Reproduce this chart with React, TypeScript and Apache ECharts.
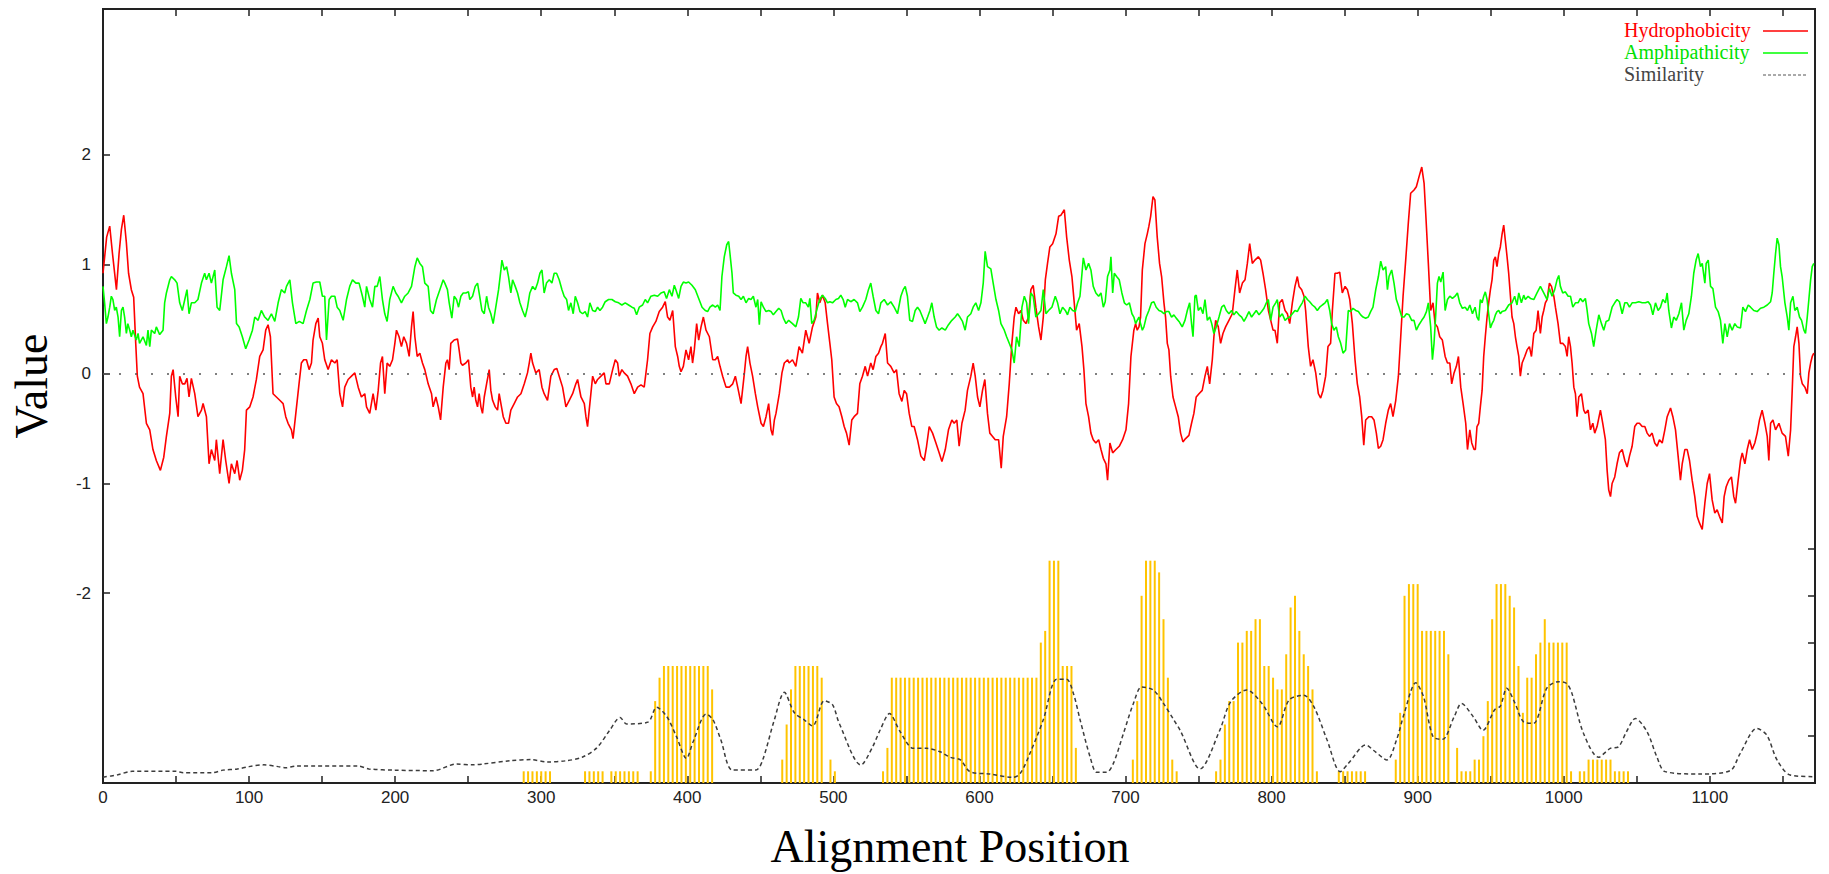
import React, { useEffect, useRef } from "react";
import * as echarts from "echarts";

const xTickValues = [0, 50, 100, 150, 200, 250, 300, 350, 400, 450, 500, 550, 600, 650, 700, 750, 800, 850, 900, 950, 1000, 1050, 1100, 1150];
const xLabelValues = [0, 100, 200, 300, 400, 500, 600, 700, 800, 900, 1000, 1100];
const leftTickValues = [-2, -1, 0, 1, 2];
const rightTickValues = [4, 8, 12, 16, 20];

const legendNames = ["Hydrophobicity", "Amphipathicity", "Similarity"];

const hydrophobicity: number[][] = [
[0,0.92],[2.5,1.25],[4.6,1.35],[6.5,1.1],[9.2,0.77],[11,1.1],[12.6,1.32],[14.2,1.45],[16,1.2],[17.5,0.92],[19.4,0.77],[21,0.7],[22.4,0.28],[23.5,-0.02],[25,-0.12],[27.4,-0.18],[29.7,-0.45],[32,-0.51],[34.2,-0.69],[36.5,-0.79],[39.3,-0.88],[41.6,-0.76],[43.4,-0.57],[45.7,-0.36],[46.8,-0.02],[48,0.04],[49.8,-0.21],[51.4,-0.39],[52.5,-0.02],[54.3,-0.09],[56,-0.09],[57.5,-0.04],[58.9,-0.21],[60.5,-0.04],[62.8,-0.18],[65,-0.39],[67.4,-0.33],[68.5,-0.27],[70.8,-0.39],[72.6,-0.82],[74.2,-0.69],[76.5,-0.79],[77.6,-0.6],[79.9,-0.91],[82.2,-0.6],[84,-0.79],[86.3,-1.0],[87.9,-0.82],[90.2,-0.91],[91.8,-0.79],[93.6,-0.97],[95.4,-0.88],[97,-0.69],[98.2,-0.33],[100.5,-0.3],[102.7,-0.21],[105,-0.05],[107.3,0.16],[109.6,0.22],[111.4,0.4],[113,0.45],[114.6,0.34],[116.4,-0.18],[118.7,-0.21],[121,-0.24],[123.3,-0.27],[125.1,-0.39],[126.7,-0.45],[129,-0.51],[130.1,-0.59],[132,-0.36],[134.2,-0.09],[135.8,0.1],[137.4,0.13],[139.3,0.13],[141.1,0.04],[142.7,0.1],[143.8,0.31],[145.7,0.46],[147.3,0.51],[148.4,0.34],[150.2,0.28],[151.8,0.13],[154.1,0.04],[156.4,0.13],[158.7,0.1],[160.3,0.13],[162.1,-0.18],[164,-0.3],[165.5,-0.12],[167.8,-0.05],[170.1,-0.02],[172.4,0.01],[174.7,-0.12],[176.9,-0.21],[179.2,-0.18],[180.4,-0.3],[182.6,-0.36],[184.9,-0.18],[186.8,-0.33],[188.4,-0.15],[190,0.1],[191.3,0.16],[192.9,-0.18],[194.5,0.1],[196.3,0.07],[198.2,0.13],[199.8,0.28],[200.9,0.4],[202.7,0.34],[204.3,0.25],[205.9,0.34],[207.8,0.28],[209.6,0.16],[211.2,0.43],[212.3,0.57],[213.5,0.34],[215.1,0.16],[216.9,0.19],[218.7,0.1],[220.3,0.04],[222.6,-0.09],[224.9,-0.18],[226,-0.3],[227.9,-0.21],[229.5,-0.3],[231.1,-0.42],[232.9,-0.12],[234.7,0.1],
[235.8,0.13],[237,0.04],[238.1,0.28],[240.4,0.31],[242.7,0.32],[243.8,0.22],[245,0.1],[246.1,0.08],[248.4,0.1],[250.2,0.13],[251.8,-0.12],[253,-0.21],[254.1,-0.12],[255.2,-0.24],[256.4,-0.3],[257.5,-0.18],[258.7,-0.3],[259.8,-0.36],[261,-0.21],[262.6,-0.09],[264.4,0.04],[265.5,-0.15],[266.7,-0.24],[268.5,-0.3],[270.1,-0.33],[271.2,-0.18],[272.4,-0.27],[274,-0.39],[275.8,-0.45],[277.6,-0.45],[279.2,-0.33],[281.5,-0.27],[283.8,-0.21],[286.1,-0.18],[288.4,-0.09],[290.6,0.01],[291.8,0.1],[292.9,0.19],[294.1,0.1],[296.3,0.01],[298.6,0.04],[300.5,-0.12],[302,-0.18],[304.3,-0.24],[306.6,-0.02],[308.9,0.04],[310.7,0.05],[312.3,-0.02],[314.6,-0.12],[316.9,-0.3],[319.2,-0.24],[321.5,-0.18],[323.7,-0.09],[324.9,-0.05],[327.2,-0.21],[329.5,-0.27],[330.6,-0.39],[331.7,-0.48],[333.3,-0.27],[335.2,-0.02],[337,-0.09],[338.6,-0.05],[340.9,-0.02],[343.1,0.01],[344.3,-0.09],[346.6,-0.09],[348.9,0.04],[350.7,0.13],[352.3,0.1],[353.4,-0.02],[355.2,0.04],[356.8,0.01],[359.1,-0.02],[361.4,-0.09],[363.7,-0.18],[366,-0.12],[368.3,-0.1],[370.5,-0.12],[371.7,0.01],[372.8,0.13],[374.4,0.37],[376.3,0.43],[378.5,0.48],[380.8,0.57],[383.1,0.61],[384.9,0.66],[386.5,0.52],[388.1,0.49],[390,0.58],[391.8,0.25],[393.4,0.16],[394.5,0.07],[395.7,0.02],[397.3,0.07],[399.1,0.22],[400.9,0.13],[402.5,0.25],[403.6,0.1],[404.8,0.22],[406.4,0.46],[407.8,0.31],[409.4,0.43],[411,0.52],[412.8,0.4],[415.1,0.34],[417.4,0.13],[419.2,0.13],[420.8,0.16],[422.4,0.07],[424.2,-0.02],[426.5,-0.12],[428.8,-0.12],[431.1,-0.09],[432.9,-0.02],[434.5,-0.12],[436.8,-0.27],[439.1,0.01],[440.2,0.16],[441.3,0.25],[442.9,0.1],[444.7,-0.02],[446.6,-0.18],[448.2,-0.3],[450.5,-0.45],[452.1,-0.48],[453.9,-0.39],[455.7,-0.27],[457.3,-0.51],[458.4,-0.56],[459.6,-0.42],[460.7,-0.36],[463,-0.18],[464.8,0.01],[466.4,0.1],[468.7,0.13],
[469.7,0.1],[472,0.13],[474.3,0.07],[476.5,0.25],[478.8,0.19],[481.1,0.4],[483.4,0.28],[485.7,0.43],[488,0.52],[489.1,0.74],[490.7,0.65],[492.5,0.72],[494.4,0.65],[496,0.46],[497.6,0.28],[498.9,0.13],[500.5,-0.21],[502.1,-0.27],[503.9,-0.3],[505.8,-0.39],[507.4,-0.48],[509,-0.54],[510.8,-0.65],[512.6,-0.42],[514.2,-0.39],[516.5,-0.36],[518.1,-0.09],[519.9,-0.02],[521.8,0.07],[523.4,-0.02],[525.6,0.1],[527.2,0.04],[529.1,0.16],[530.9,0.19],[532.5,0.25],[533.6,0.28],[535.5,0.37],[537.1,0.1],[539.3,0.07],[541.6,0.01],[543.2,0.04],[545,-0.18],[546.9,-0.25],[548.5,-0.15],[550.1,-0.18],[551.9,-0.36],[553.7,-0.48],[555.3,-0.48],[557.6,-0.6],[559.9,-0.75],[562.2,-0.79],[563.8,-0.66],[565.6,-0.48],[567.9,-0.54],[570.2,-0.63],[572.4,-0.72],[574.3,-0.8],[576.6,-0.69],[578.8,-0.51],[581.1,-0.42],[582.7,-0.45],[584.5,-0.42],[586.1,-0.66],[588,-0.45],[590.2,-0.33],[591.8,-0.15],[594.1,-0.02],[595.7,0.1],[597.1,-0.02],[598.7,-0.21],[600.3,-0.3],[602.1,-0.15],[603.7,-0.05],[605.5,-0.36],[607.1,-0.54],[609,-0.57],[610.8,-0.6],[613.1,-0.6],[614.9,-0.86],[616.3,-0.57],[618.6,-0.39],[620.4,-0.09],[622.2,0.28],[623.8,0.52],[625,0.61],[626.8,0.55],[628.4,0.58],[630,0.49],[631.8,0.46],[633.6,0.52],[635.2,0.77],[636.8,0.81],[638.6,0.61],[640.5,0.43],[642.1,0.31],[643.7,0.52],[645.1,0.86],[646.6,1.01],[648.2,1.16],[650.1,1.19],[652.4,1.28],[654.2,1.44],[655.8,1.45],[658.1,1.5],[659.7,1.25],[661.5,1.04],[663.3,0.89],[664.9,0.65],[666.5,0.4],[668.3,0.46],[670.2,0.25],[671.5,0.04],[672.9,-0.27],[674.7,-0.39],[676.3,-0.54],[677.9,-0.6],[679.7,-0.63],[681.6,-0.6],[683.2,-0.69],[684.8,-0.77],[686.6,-0.82],[687.7,-0.97],[689.3,-0.63],[691.2,-0.72],[693.4,-0.69],[695.7,-0.66],[698,-0.6],[700.3,-0.51],[702.1,-0.27],[703.7,0.16],
[705.7,0.4],[706.9,0.46],[708,0.4],[709.2,0.43],[710.3,0.52],[711.5,0.95],[713.3,1.19],[714.9,1.28],[716,1.35],[717.2,1.44],[718.8,1.62],[720.1,1.59],[721.7,1.25],[723.3,1.01],[724.7,0.89],[726.3,0.65],[727.4,0.52],[728.6,0.28],[729.7,0.22],[730.9,-0.02],[732.5,-0.21],[734.3,-0.3],[736.1,-0.39],[737.7,-0.54],[739.3,-0.62],[741.1,-0.59],[743.4,-0.56],[745.2,-0.45],[746.8,-0.36],[748.4,-0.21],[750.3,-0.18],[752.5,-0.15],[754.4,-0.02],[756,0.07],[757.6,-0.09],[759.4,0.13],[760.5,0.34],[761.7,0.49],[763.5,0.43],[765.1,0.28],[766.7,0.37],[768.5,0.43],[770.8,0.49],[773.1,0.55],[774.9,0.77],[776.5,0.95],[778.1,0.74],[780,0.83],[781.8,0.86],[783.4,1.01],[785,1.19],[786.8,1.01],[788.6,1.04],[790.9,1.07],[792.5,1.04],[794.1,0.92],[795.9,0.77],[797.8,0.58],[799.4,0.49],[801,0.4],[802.3,0.4],[803.9,0.28],[805.5,0.65],[807.3,0.68],[809.2,0.58],[810.8,0.55],[812.4,0.46],[814.2,0.65],[816,0.8],[817.6,0.89],[818.8,0.8],[820.6,0.77],[822.2,0.71],[823.3,0.58],[825.1,0.25],[826.7,0.07],[828.3,0.13],[830.2,0.01],[832,-0.18],[833.6,-0.22],[835.2,-0.15],[837,-0.02],[838.6,0.25],[840.4,0.28],[841.6,0.58],[843.4,0.92],[845,0.92],[846.6,0.93],[848.4,0.74],[850.3,0.8],[851.9,0.77],[853.5,0.68],[855.3,0.46],[857.1,0.13],[858.7,-0.09],[860.3,-0.21],[861.7,-0.39],[863.1,-0.65],[864.4,-0.42],[866.7,-0.39],[868.5,-0.39],[870.1,-0.42],[871.7,-0.54],[873.1,-0.68],[874.7,-0.66],[876.3,-0.6],[878.1,-0.45],[879.9,-0.33],[881.5,-0.27],[883.1,-0.39],[885,-0.24],[886.8,-0.02],[888.4,0.34],[890,0.71],[891.8,1.04],[893.6,1.38],[895.2,1.65],[897.5,1.68],[899.1,1.71],[900.9,1.8],[902.8,1.89],[904.4,1.74],[905.5,1.47],[907.3,1.01],[908.9,0.58],[910.5,0.65],[911.9,0.46],[913.5,0.43],[915.1,0.34],[916.9,0.31],[918.8,0.16],[920.4,0.1],[922,0.1],[923.3,-0.09],[924.9,0.01],[926.5,0.07],[927.9,0.16],[929.5,-0.12],[931.1,-0.27],[932.9,-0.45],[934.1,-0.69],[935.7,-0.51],[937,-0.63],[938.6,-0.69],
[939.5,-0.69],[940.6,-0.48],[941.8,-0.45],[942.9,-0.3],[944.1,-0.15],[945.2,0.16],[946.3,0.34],[947.5,0.52],[948.6,0.65],[949.8,0.77],[950.9,0.86],[952.1,1.04],[953.2,1.07],[954.3,0.98],[955.5,1.1],[956.6,1.16],[957.8,1.28],[958.9,1.36],[960,1.22],[961.2,1.07],[962.3,0.92],[963.5,0.71],[964.6,0.52],[965.8,0.46],[966.9,0.34],[968,0.25],[969.2,0.16],[970.3,-0.02],[971.5,0.1],[973.3,0.16],[974.9,0.22],[976.5,0.25],[977.9,0.16],[979.5,0.37],[981.1,0.4],[982.4,0.58],[984,0.37],[985.2,0.52],[986.3,0.58],[987.4,0.65],[988.6,0.68],[990.2,0.83],[991.6,0.8],[993.2,0.71],[994.3,0.61],[996.1,0.46],[997.7,0.28],[999.3,0.28],[1001.1,0.25],[1002.3,0.16],[1003.4,0.34],[1004.6,0.25],[1005.7,0.1],[1006.9,-0.12],[1008,-0.18],[1009.1,-0.39],[1010.3,-0.21],[1012.1,-0.18],[1013.7,-0.33],[1014.8,-0.36],[1016.7,-0.33],[1018.3,-0.51],[1019.9,-0.45],[1021.2,-0.54],[1022.8,-0.48],[1025.1,-0.33],[1026.7,-0.45],[1028.5,-0.6],[1029.7,-0.88],[1030.8,-1.06],[1032,-1.12],[1033.1,-1.0],[1034.9,-0.94],[1036.5,-0.82],[1038.1,-0.72],[1040,-0.69],[1041.8,-0.79],[1043.4,-0.85],[1045,-0.75],[1046.8,-0.66],[1048.6,-0.48],[1050.2,-0.45],[1051.8,-0.45],[1053.7,-0.48],[1055.5,-0.48],[1057.1,-0.54],[1058.7,-0.57],[1060.5,-0.54],[1062.3,-0.63],[1063.9,-0.66],[1065.5,-0.6],[1067.4,-0.63],[1069.2,-0.51],[1070.8,-0.39],[1073.1,-0.31],[1074.7,-0.39],[1076.5,-0.51],[1078.3,-0.75],[1079.9,-0.97],[1081.1,-0.82],[1082.9,-0.69],[1084.5,-0.69],[1086.1,-0.79],[1087.9,-0.97],[1089.7,-1.12],[1091.3,-1.3],[1092.9,-1.36],[1094.8,-1.42],[1096.6,-1.18],[1098.2,-1.0],[1099.8,-0.91],[1101.6,-1.15],[1103.4,-1.27],[1105,-1.24],[1106.6,-1.3],[1108.5,-1.36],[1109.8,-1.12],[1111.2,-1.03],[1113,-0.97],[1114.8,-0.94],[1116.4,-1.12],[1117.6,-1.18],[1119.4,-0.97],[1121,-0.79],[1122.2,-0.72],[1124,-0.82],[1125.6,-0.69],[1127.2,-0.6],[1129,-0.69],[1130.8,-0.63],[1132.4,-0.54],[1134,-0.42],[1135.8,-0.33],[1137.7,-0.45],[1139.3,-0.57],[1140.4,-0.79],[1141.6,-0.45],[1143.2,-0.42],[1145,-0.51],[1147.3,-0.45],[1149.5,-0.54],[1151.8,-0.57],[1153.7,-0.75],[1155.3,-0.51],[1156.4,-0.15],[1157.5,0.25],[1158.7,0.34],[1159.8,0.43],[1161,0.28],[1162.1,-0.02],[1163.3,-0.09],[1165.1,-0.12],[1166.7,-0.18],[1167.8,0.01],[1169,0.1],[1170.1,0.16],[1171.2,0.19]
];

const amphipathicity: number[][] = [
[0,0.8],[1.1,0.65],[2.3,0.46],[3.4,0.52],[4.6,0.61],[5.7,0.71],[6.8,0.68],[8,0.58],[9.1,0.61],[10.3,0.52],[11.4,0.34],[12.6,0.58],[13.7,0.61],[14.8,0.52],[16,0.37],[17,0.46],[18.3,0.4],[19.4,0.34],[20.5,0.4],[22.8,0.31],[24,0.37],[25,0.28],[27.4,0.34],[29.7,0.26],[30.8,0.4],[32,0.25],[33.1,0.4],[35.4,0.37],[36.5,0.43],[38.8,0.36],[41.1,0.4],[42.2,0.65],[43.4,0.74],[45.7,0.86],[46.8,0.89],[49.1,0.86],[50.7,0.83],[52.5,0.65],[54.3,0.58],[56,0.68],[57.5,0.77],[58.9,0.55],[60.5,0.65],[62.8,0.65],[65,0.68],[67.4,0.83],[69.6,0.92],[70.8,0.86],[72.6,0.92],[74.2,0.83],[76.5,0.95],[78.1,0.61],[79.9,0.58],[82.2,0.86],[84.5,0.98],[86.3,1.08],[87.9,0.92],[90.2,0.77],[91.4,0.46],[93.2,0.43],[95.4,0.34],[97.7,0.23],[100,0.31],[102.3,0.4],[103.9,0.52],[106.2,0.49],[108.4,0.58],[110.7,0.52],[113,0.49],[115.3,0.55],[117.6,0.48],[119.9,0.65],[122.1,0.77],[124.4,0.74],[125.6,0.8],[127.9,0.86],[129.7,0.65],[132,0.46],[134.4,0.48],[137,0.46],[139.3,0.58],[141.6,0.68],[143.8,0.83],[146.1,0.84],[148.4,0.84],[150.2,0.71],[151.8,0.71],[153,0.31],[154.8,0.68],[156.4,0.71],[158.7,0.71],[160.3,0.61],[162.1,0.58],[164.4,0.49],[166.7,0.68],[168.9,0.8],[170.8,0.86],[173.1,0.83],[175.3,0.83],[177.6,0.71],[179.2,0.61],[180.4,0.8],[182.6,0.68],[184.5,0.61],[186.1,0.8],[187.7,0.8],[189.5,0.89],[191.3,0.68],[192.9,0.55],[194.5,0.48],[196.3,0.68],[198.6,0.8],[200.5,0.74],[202,0.71],[204.3,0.65],[206.6,0.71],[208.9,0.74],[211.2,0.8],[213.5,0.98],[215.1,1.06],[216.9,1.01],[218.7,0.98],[220.3,0.83],[222.6,0.8],[224.2,0.58],[226,0.55],[228.3,0.68],[230.6,0.77],[232.9,0.86],[234,0.83],
[235.8,0.77],[237,0.65],[238.8,0.51],[240.4,0.71],[242,0.68],[243.4,0.61],[245,0.71],[246.6,0.74],[248.4,0.74],[250.2,0.75],[251.1,0.68],[253,0.71],[254.8,0.8],[256.4,0.83],[257.5,0.74],[259.4,0.58],[261,0.55],[262.6,0.71],[263.9,0.61],[265.5,0.55],[267.1,0.46],[268.9,0.61],[270.8,0.77],[272.4,0.95],[273.1,1.04],[274.7,0.95],[276.3,0.98],[277.6,0.89],[279.2,0.74],[280.4,0.86],[282.2,0.8],[283.8,0.74],[285.4,0.65],[287.2,0.58],[289,0.52],[290.6,0.61],[292.2,0.74],[294.1,0.8],[295.9,0.77],[297.5,0.83],[299.1,0.92],[300.5,0.95],[302,0.74],[303.6,0.83],[305.5,0.86],[307.3,0.83],[308.9,0.92],[310.5,0.92],[312.3,0.86],[314.2,0.77],[315.7,0.71],[317.4,0.68],[318.7,0.58],[320.3,0.65],[321.9,0.55],[323.3,0.71],[324.9,0.65],[326.5,0.57],[328.3,0.55],[330.1,0.57],[331.7,0.52],[333.3,0.65],[335.2,0.58],[337,0.57],[338.6,0.61],[340.2,0.58],[342,0.61],[343.8,0.66],[346.1,0.68],[348.4,0.68],[350.7,0.66],[353,0.65],[355.2,0.63],[357.5,0.65],[359.8,0.63],[362.1,0.61],[363.7,0.6],[365.3,0.54],[367.1,0.61],[369.4,0.63],[371.2,0.68],[372.8,0.65],[375.1,0.71],[377.4,0.72],[379.7,0.71],[382,0.74],[384.2,0.75],[385.8,0.69],[387.7,0.77],[389.5,0.71],[391.1,0.81],[392.2,0.77],[394.1,0.69],[395.7,0.8],[397.3,0.84],[399.1,0.83],[400.9,0.84],[403.2,0.81],[405.5,0.77],[407.8,0.69],[410.1,0.61],[412.3,0.58],[413.9,0.57],[415.5,0.61],[417.4,0.63],[419.2,0.61],[420.8,0.63],[422.4,0.58],[423.7,0.89],[425.3,1.07],[427,1.18],[428.3,1.21],[429.2,1.1],[430.6,0.92],[431.5,0.74],[433.3,0.72],[435.2,0.71],[436.8,0.68],[438.4,0.71],[440.2,0.65],[442,0.69],[443.6,0.68],[445.2,0.71],[447,0.61],[448.2,0.68],[449.3,0.45],[450.5,0.66],[452.1,0.61],[453.9,0.57],[455.7,0.58],[457.3,0.57],[458.9,0.54],[460.7,0.57],[462.6,0.6],[464.2,0.58],[465.8,0.51],[467.6,0.46],[469.4,0.49],
[472,0.46],[474.3,0.43],[476.1,0.52],[477.7,0.69],[479.3,0.65],[481.1,0.65],[482.9,0.61],[483.9,0.69],[485.2,0.46],[486.8,0.49],[489.1,0.61],[490.7,0.68],[492.5,0.72],[494.4,0.69],[496,0.65],[497.6,0.66],[499.4,0.65],[501.7,0.68],[503.5,0.69],[505.1,0.72],[506.7,0.68],[508.1,0.61],[509.7,0.68],[511.9,0.66],[514.2,0.68],[516.5,0.65],[518.1,0.57],[519.9,0.61],[522.2,0.68],[524,0.77],[525.6,0.83],[527.2,0.71],[529.1,0.58],[530.9,0.55],[532.5,0.65],[534.8,0.68],[537.1,0.63],[539.3,0.66],[541.6,0.61],[543.9,0.55],[546.2,0.71],[547.8,0.77],[549.2,0.8],[550.7,0.71],[552.3,0.49],[554.2,0.48],[556,0.58],[557.6,0.61],[559.2,0.58],[561,0.52],[562.8,0.46],[564.5,0.52],[566.1,0.58],[567.4,0.65],[569,0.52],[570.6,0.43],[572.4,0.4],[574.3,0.42],[576.6,0.4],[578.8,0.45],[581.1,0.49],[583.4,0.52],[585,0.55],[586.6,0.52],[588.4,0.48],[590.2,0.4],[591.8,0.52],[594.1,0.55],[595.7,0.61],[597.5,0.65],[599.4,0.58],[601,0.65],[602.6,0.83],[603.9,1.12],[605.5,0.98],[607.8,0.96],[609.4,0.83],[611.3,0.68],[613.1,0.58],[614.7,0.46],[617,0.4],[618.6,0.34],[620.4,0.28],[622.2,0.22],[623.8,0.1],[625.4,0.34],[627.2,0.25],[629.1,0.61],[630.7,0.71],[632.3,0.65],[633.6,0.46],[635.2,0.74],[636.8,0.71],[638.6,0.52],[640.5,0.55],[642.1,0.58],[643.7,0.77],[645.5,0.55],[647.3,0.58],[649.6,0.61],[651.9,0.71],[653.5,0.65],[655.1,0.55],[656.9,0.61],[658.8,0.58],[660.3,0.54],[661.9,0.61],[663.8,0.58],[665.6,0.57],[667.2,0.65],[668.8,0.71],[670.2,0.92],[671.1,1.06],[672.9,0.95],[674.7,1.01],[676.3,0.95],[677.9,0.8],[679.7,0.74],[681.6,0.71],[683.2,0.74],[684.8,0.61],[686.1,0.66],[687.7,0.89],[689.3,0.95],[690,1.07],[691.2,0.74],[692.3,0.92],[693.9,0.89],[695.7,0.86],[697.5,0.74],[699.2,0.65],[700.8,0.63],[702.6,0.65],[704.4,0.55],
[705.7,0.52],[706.9,0.46],[708,0.49],[709.2,0.52],[710.3,0.46],[711.5,0.4],[712.6,0.43],[714.2,0.52],[716,0.58],[717.8,0.65],[719.4,0.66],[721,0.61],[722.9,0.58],[724.7,0.57],[726.3,0.55],[727.9,0.57],[729.7,0.57],[731.5,0.52],[733.1,0.54],[734.7,0.51],[736.6,0.48],[738.8,0.43],[740.7,0.49],[742.3,0.58],[743.9,0.65],[745.2,0.46],[746.2,0.34],[747.5,0.71],[748.4,0.72],[749.8,0.58],[751.4,0.61],[753,0.55],[754.4,0.68],[756,0.49],[757.6,0.52],[759,0.46],[760.5,0.37],[762.1,0.43],[764,0.52],[765.8,0.61],[767.4,0.63],[769,0.58],[770.8,0.55],[772.6,0.58],[774.2,0.54],[775.8,0.57],[777.7,0.54],[779.5,0.52],[781.1,0.48],[782.7,0.52],[784.5,0.57],[786.3,0.52],[787.9,0.55],[789.5,0.58],[791.4,0.54],[793.2,0.57],[794.8,0.6],[796.4,0.65],[797.8,0.68],[799.4,0.49],[801,0.61],[802.8,0.65],[803.9,0.68],[805.5,0.52],[807.3,0.55],[809.2,0.49],[810.8,0.51],[812.4,0.52],[814.2,0.55],[816,0.58],[817.6,0.57],[819.2,0.61],[821,0.65],[822.9,0.71],[824.5,0.68],[826.1,0.66],[827.9,0.63],[829.7,0.61],[831.3,0.58],[832.9,0.61],[834.7,0.63],[836.6,0.65],[838.2,0.68],[839.8,0.58],[841.1,0.46],[842.7,0.4],[844.3,0.43],[845.7,0.34],[847.3,0.28],[848.9,0.19],[850.7,0.22],[852.5,0.58],[854.1,0.57],[855.7,0.6],[857.6,0.58],[859.4,0.57],[861,0.54],[862.6,0.52],[864.4,0.51],[866.2,0.52],[867.8,0.57],[869.4,0.61],[871.3,0.77],[873.1,0.89],[874.7,1.03],[876.3,0.95],[878.1,0.98],[879.3,0.77],[880.4,0.89],[882.2,0.95],[883.8,0.83],[885.4,0.68],[887.2,0.61],[889.1,0.52],[890.7,0.52],[892.3,0.55],[894.1,0.54],[895.9,0.49],[897.5,0.49],[899.1,0.4],[900.9,0.45],[902.8,0.49],[904.4,0.52],[906,0.57],[907.3,0.65],[908.9,0.43],[910.1,0.13],[911.2,0.28],[912.4,0.55],[913.5,0.83],[914.6,0.89],[915.8,0.84],[917.4,0.93],[918.8,0.58],[920.4,0.68],[922,0.71],[923.8,0.69],[925.6,0.71],[927.2,0.74],[928.8,0.65],[930.6,0.6],[932.5,0.61],[934.1,0.58],[935.7,0.63],[937.5,0.55],[939.3,0.61],
[940.6,0.52],[941.8,0.49],[942.9,0.68],[944.1,0.65],[945.2,0.71],[946.3,0.75],[947.5,0.68],[948.6,0.55],[949.8,0.42],[950.9,0.46],[952.1,0.49],[953.2,0.54],[954.3,0.57],[955.5,0.58],[956.6,0.55],[957.8,0.57],[960,0.58],[962.3,0.63],[964.6,0.65],[966.4,0.71],[968,0.63],[969.2,0.74],[971,0.65],[972.6,0.72],[973.7,0.68],[975.6,0.71],[977.2,0.69],[979.5,0.68],[981.7,0.74],[984,0.8],[986.3,0.74],[988.6,0.68],[990.2,0.78],[992,0.71],[993.8,0.77],[995.4,0.86],[996.6,0.9],[997.7,0.8],[999.3,0.74],[1001.1,0.75],[1003,0.71],[1004.6,0.71],[1006.2,0.61],[1008,0.65],[1009.8,0.65],[1011.4,0.69],[1013,0.66],[1014.8,0.69],[1016,0.58],[1017.1,0.46],[1019,0.37],[1020.5,0.25],[1022.2,0.4],[1024,0.54],[1025.8,0.46],[1027.4,0.4],[1029,0.48],[1030.8,0.49],[1033.1,0.61],[1034.9,0.65],[1036.5,0.68],[1038.1,0.66],[1040,0.55],[1041.8,0.65],[1043.4,0.65],[1045,0.61],[1046.8,0.65],[1049.1,0.65],[1051.4,0.66],[1053.7,0.65],[1055.9,0.65],[1057.8,0.66],[1059.4,0.63],[1061,0.54],[1062.8,0.65],[1064.6,0.58],[1066.2,0.61],[1067.8,0.68],[1069.6,0.65],[1070.8,0.74],[1071.9,0.58],[1073.7,0.42],[1075.3,0.52],[1077,0.49],[1078.8,0.55],[1080.6,0.65],[1082.2,0.4],[1083.8,0.49],[1085.6,0.55],[1087.4,0.71],[1089,0.92],[1090.6,1.04],[1092,1.1],[1093.6,0.98],[1094.8,1.01],[1096.6,0.83],[1097.5,1.01],[1098.9,1.04],[1100.5,0.8],[1102.1,0.78],[1103.9,0.61],[1105.7,0.57],[1107.3,0.49],[1108.9,0.28],[1110.3,0.46],[1111.9,0.34],[1113.5,0.46],[1115.3,0.4],[1117.1,0.46],[1118.7,0.43],[1121,0.42],[1122.6,0.61],[1124.4,0.57],[1126.3,0.63],[1127.9,0.61],[1130.1,0.58],[1132.4,0.57],[1134.7,0.6],[1137,0.61],[1139.3,0.63],[1141.6,0.66],[1142.7,0.74],[1143.8,0.92],[1145,1.1],[1146.1,1.24],[1147.3,1.18],[1148.4,0.98],[1149.5,0.89],[1151.4,0.65],[1153,0.52],[1154.1,0.4],[1155.3,0.65],[1156.9,0.71],[1158.2,0.58],[1159.8,0.61],[1161.4,0.52],[1162.8,0.49],[1164.4,0.4],[1165.5,0.37],[1166.7,0.52],[1167.8,0.68],[1169,0.86],[1170.1,0.98],[1171.2,1.01]
];

const similarity: number[][] = [
[0,0.5],[10,0.7],[20,1.0],[50,1.0],[55,0.88],[75,0.88],[82,1.1],[92,1.2],[100,1.4],[110,1.55],[120,1.4],[125,1.3],[132,1.45],[175,1.45],[182,1.2],[200,1.1],[226,1.05],[242,1.62],[253,1.55],[260,1.62],[279,1.91],[293,2.0],[304,1.8],[317,1.9],[328,2.2],[338,3.0],[347,4.53],[354,5.6],[358.5,5.05],[373,5.2],[379,6.47],[386,5.67],[392.6,3.96],[399.4,2.1],[404,3.53],[413,5.9],[417.6,5.4],[423,3.67],[431,1.11],[447,1.11],[451.6,1.97],[459.6,5.4],[466.4,7.75],[473.3,6.0],[480,5.4],[485.8,4.87],[493.8,7.04],[499.5,6.67],[504,5.1],[518.9,1.54],[526.9,3.1],[532,4.53],[538.4,5.93],[545.7,4.39],[554.8,2.96],[564,2.96],[573,2.67],[580,2.2],[587,1.97],[593.5,0.97],[607,0.77],[623,0.48],[628,0.83],[634.6,2.54],[643.7,5.4],[652.9,8.86],[659.7,8.86],[664.3,7.66],[668.9,5.4],[675.7,2.25],[680.3,0.91],[687,0.91],[691.7,1.68],[698.6,4.25],[705.4,6.8],[711,8.2],[719,7.95],[726,6.8],[733,5.4],[737.4,4.5],[751,1.2],[764.5,4.5],[772,6.94],[783,7.95],[793.4,6.8],[804,4.8],[812,7.1],[822,7.5],[829,6.5],[838,3.67],[847,0.97],[852.6,1.68],[864.5,3.25],[869.7,2.8],[879,1.97],[885.5,3.67],[890.8,5.95],[898.7,8.57],[904,7.37],[910.5,3.96],[917,3.73],[925,5.67],[930,6.8],[938,5.67],[944.7,4.5],[952.6,6.24],[956.6,6.58],[961,8.1],[966.7,6.8],[972.4,5.24],[979.3,5.1],[988.4,8.1],[996.4,8.66],[1002,8.5],[1005.6,7.66],[1013.5,4.25],[1023.8,2.2],[1031.8,2.96],[1037.5,3.1],[1043,4.39],[1049,5.52],[1057,4.39],[1063.7,2.25],[1069.4,0.97],[1093.4,0.77],[1114,1.06],[1120.8,2.54],[1132.2,4.67],[1139,4.1],[1146,1.97],[1155,0.68],[1171,0.54]
];

const barPositions = [
288,291,294,297,300,303,306,330,333,336,339,342,348,351,354,357,360,363,366,
375,378,381,384,387,390,393,396,399,402,405,408,411,414,417,
465,468,471,474,477,480,483,486,489,492,498,501,
534,537,540,543,546,549,552,555,558,561,564,567,570,573,576,579,582,585,588,591,594,597,600,603,606,609,612,615,618,621,624,627,630,633,636,639,
642,645,648,651,654,657,660,663,666,
705,708,711,714,717,720,723,726,729,732,735,
762,765,768,771,774,777,780,783,786,789,792,795,798,801,804,807,810,813,816,819,822,825,828,831,
846,849,852,855,858,861,864,
885,888,891,894,897,900,903,906,909,912,915,918,921,927,930,933,936,939,942,945,948,951,954,957,960,963,966,969,972,975,978,981,984,987,990,993,996,999,1002,1005,1011,1014,1017,1020,1023,1026,1029,1032,1035,1038,1041,1044
];
const barHeights = [
1,1,1,1,1,1,1,1,1,1,1,1,1,1,1,1,1,1,1,
1,7,9,10,10,10,10,10,10,10,10,10,10,10,8,
2,5,8,10,10,10,10,10,10,9,2,1,
1,3,9,9,9,9,9,9,9,9,9,9,9,9,9,9,9,9,9,9,9,9,9,9,9,9,9,9,9,9,9,9,9,9,9,9,
12,13,19,19,19,10,10,10,3,
2,7,16,19,19,19,18,14,9,2,1,
1,2,5,7,7,12,12,13,13,14,14,10,10,9,8,8,11,15,16,13,11,10,8,1,
1,1,1,1,1,1,1,
2,6,16,17,17,17,13,13,13,13,13,13,11,3,1,1,1,2,2,4,7,14,17,17,17,16,15,10,6,9,9,11,12,14,12,12,12,12,12,1,1,1,2,2,2,2,2,2,1,1,1,1
];

const RED = "#ff0000";
const GREEN = "#00ff00";
const GREY = "#3c3c3c";
const GOLD = "#ffc400";
const AXIS = "#222222";
const SERIF = "'Liberation Serif', 'Times New Roman', serif";
const SANS = "'Liberation Sans', Arial, sans-serif";

export default function App() {
  const ref = useRef<HTMLDivElement>(null);
  useEffect(() => {
    if (!ref.current) return;
    const chart = echarts.init(ref.current, undefined, { renderer: "svg" });
    const bars = barPositions.map((p, i) => [p, barHeights[i]]);
    const tickLabelStyle = { fontFamily: SANS, fontSize: 17, color: AXIS };
    const axisLine = { show: true, onZero: false, lineStyle: { color: AXIS, width: 2 } };
    const tickStyle = { color: AXIS, width: 1.5 };
    const legendY = [31, 53, 75];
    const plain = (v: number) => String(v);
    chart.setOption({
      animation: false,
      backgroundColor: "#ffffff",
      grid: { left: 103, top: 9, width: 1712, height: 774, show: true, borderColor: AXIS, borderWidth: 2, backgroundColor: "transparent" },
      xAxis: [
        {
          type: "value", min: 0, max: 1172, position: "bottom",
          axisLine,
          axisTick: { show: true, inside: true, length: 7, lineStyle: tickStyle, customValues: xTickValues },
          axisLabel: { ...tickLabelStyle, margin: 6, customValues: xLabelValues, formatter: plain },
          splitLine: { show: false },
        },
        {
          type: "value", min: 0, max: 1172, position: "top",
          axisLine,
          axisTick: { show: true, inside: true, length: 7, lineStyle: tickStyle, customValues: xTickValues },
          axisLabel: { show: false },
          splitLine: { show: false },
        },
      ],
      yAxis: [
        {
          type: "value", min: -3.735, max: 3.333, position: "left",
          axisLine,
          axisTick: { show: true, inside: true, length: 7, lineStyle: tickStyle, customValues: leftTickValues },
          axisLabel: { ...tickLabelStyle, margin: 12, customValues: leftTickValues, formatter: plain },
          splitLine: { show: false },
        },
        {
          type: "value", min: 0, max: 66.15, position: "right",
          axisLine,
          axisTick: { show: true, inside: true, length: 7, lineStyle: tickStyle, customValues: rightTickValues },
          axisLabel: { show: false },
          splitLine: { show: false },
        },
      ],
      series: [
        {
          name: "bars", type: "bar", xAxisIndex: 0, yAxisIndex: 1, data: bars,
          barWidth: 2, itemStyle: { color: GOLD }, silent: true,
        },
        {
          name: legendNames[2], type: "line", xAxisIndex: 0, yAxisIndex: 1, data: similarity,
          showSymbol: false, smooth: 0.3, silent: true,
          lineStyle: { color: GREY, width: 1.5, type: [4, 3] },
        },
        {
          name: legendNames[0], type: "line", xAxisIndex: 0, yAxisIndex: 0, data: hydrophobicity,
          showSymbol: false, silent: true,
          lineStyle: { color: RED, width: 1.6 },
          markLine: {
            silent: true, symbol: "none", label: { show: false },
            lineStyle: { color: "#555", width: 1.5, type: [2, 14] },
            data: [{ yAxis: 0 }],
          },
        },
        {
          name: legendNames[1], type: "line", xAxisIndex: 0, yAxisIndex: 0, data: amphipathicity,
          showSymbol: false, silent: true,
          lineStyle: { color: GREEN, width: 1.6 },
        },
      ],
      graphic: [
        { type: "text", left: 1624, top: legendY[0] - 11, style: { text: legendNames[0], fill: RED, font: `20px ${SERIF}` } },
        { type: "text", left: 1624, top: legendY[1] - 11, style: { text: legendNames[1], fill: "#00e000", font: `20px ${SERIF}` } },
        { type: "text", left: 1624, top: legendY[2] - 11, style: { text: legendNames[2], fill: "#444", font: `20px ${SERIF}` } },
        { type: "line", shape: { x1: 1763, y1: legendY[0], x2: 1808, y2: legendY[0] }, style: { stroke: RED, lineWidth: 1.6 } },
        { type: "line", shape: { x1: 1763, y1: legendY[1], x2: 1808, y2: legendY[1] }, style: { stroke: GREEN, lineWidth: 1.6 } },
        { type: "line", shape: { x1: 1763, y1: legendY[2], x2: 1808, y2: legendY[2] }, style: { stroke: "#555", lineWidth: 1, lineDash: [3, 2] } },
        {
          type: "text", x: 31, y: 386, rotation: Math.PI / 2,
          style: { text: "Value", fill: "#000", font: `46px ${SERIF}`, textAlign: "center", textVerticalAlign: "middle" },
        },
        {
          type: "text", x: 950, y: 846,
          style: { text: "Alignment Position", fill: "#000", font: `46px ${SERIF}`, textAlign: "center", textVerticalAlign: "middle" },
        },
      ],
    });
    return () => chart.dispose();
  }, []);
  return <div ref={ref} style={{ position: "fixed", left: 0, top: 0, width: 1829, height: 874, background: "#fff" }} />;
}
